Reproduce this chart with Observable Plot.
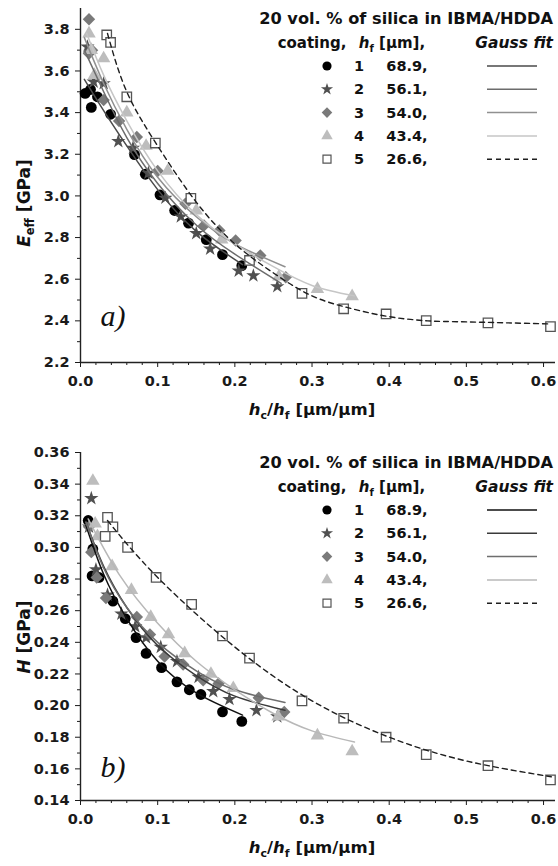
<!DOCTYPE html>
<html>
<head>
<meta charset="utf-8">
<script src="https://cdn.jsdelivr.net/npm/d3@7"></script>
<script src="https://cdn.jsdelivr.net/npm/@observablehq/plot@0.6"></script>
<style>
  html, body { margin: 0; padding: 0; background: #fff; }
  #chart { width: 558px; }
  #chart svg { display: block; }
</style>
</head>
<body>
<div id="chart"></div>
<script>
// ---------- legend / category data ----------
const coatings = ["1", "2", "3", "4", "5"];
const hfValues = ["68.9,", "56.1,", "54.0,", "43.4,", "26.6,"];
const legendTitle = "20 vol. % of silica in IBMA/HDDA";

// ---------- tick data ----------
const xMajor = [0, 0.1, 0.2, 0.3, 0.4, 0.5, 0.6];
const xMinor = [0.02,0.04,0.06,0.08,0.12,0.14,0.16,0.18,0.22,0.24,0.26,0.28,0.32,0.34,0.36,0.38,0.42,0.44,0.46,0.48,0.52,0.54,0.56,0.58];
const eMajor = [2.2, 2.4, 2.6, 2.8, 3.0, 3.2, 3.4, 3.6, 3.8];
const eMinor = [2.3, 2.5, 2.7, 2.9, 3.1, 3.3, 3.5, 3.7];
const hMajor = [0.14, 0.16, 0.18, 0.20, 0.22, 0.24, 0.26, 0.28, 0.30, 0.32, 0.34, 0.36];
const hMinor = [0.15, 0.17, 0.19, 0.21, 0.23, 0.25, 0.27, 0.29, 0.31, 0.33, 0.35];

// ---------- panel a) E_eff [GPa] vs hc/hf ----------
const E1 = [[0.006,3.492],[0.013,3.511],[0.022,3.476],[0.014,3.425],[0.039,3.392],[0.070,3.198],[0.084,3.104],[0.103,3.005],[0.122,2.930],[0.140,2.869],[0.163,2.790],[0.184,2.718],[0.209,2.665]];
const E2 = [[0.009,3.716],[0.017,3.548],[0.030,3.540],[0.049,3.262],[0.068,3.230],[0.088,3.110],[0.110,2.990],[0.130,2.900],[0.150,2.820],[0.168,2.746],[0.205,2.640],[0.224,2.617],[0.255,2.565]];
const E3 = [[0.011,3.848],[0.015,3.700],[0.011,3.684],[0.030,3.460],[0.050,3.360],[0.073,3.283],[0.100,3.120],[0.136,2.962],[0.160,2.858],[0.180,2.834],[0.201,2.786],[0.233,2.714],[0.266,2.609]];
const E4 = [[0.011,3.780],[0.014,3.700],[0.018,3.580],[0.030,3.660],[0.060,3.400],[0.085,3.240],[0.113,3.120],[0.150,2.930],[0.183,2.790],[0.220,2.700],[0.257,2.612],[0.307,2.553],[0.352,2.518]];
const E5 = [[0.034,3.773],[0.039,3.737],[0.060,3.476],[0.097,3.254],[0.143,2.988],[0.219,2.690],[0.287,2.532],[0.341,2.458],[0.396,2.433],[0.448,2.401],[0.528,2.390],[0.609,2.372]];
// Gauss fit curves
const EF1 = [[0.005,3.56],[0.03,3.41],[0.06,3.24],[0.1,3.03],[0.15,2.83],[0.21,2.67]];
const EF2 = [[0.005,3.70],[0.03,3.50],[0.06,3.28],[0.1,3.06],[0.15,2.86],[0.2,2.72],[0.26,2.58]];
const EF3 = [[0.005,3.76],[0.03,3.54],[0.06,3.32],[0.1,3.09],[0.15,2.90],[0.2,2.77],[0.265,2.66]];
const EF4 = [[0.008,3.78],[0.03,3.58],[0.06,3.36],[0.1,3.12],[0.15,2.91],[0.2,2.77],[0.25,2.66],[0.3,2.57],[0.355,2.52]];
const EF5 = [[0.035,3.78],[0.06,3.50],[0.1,3.24],[0.15,2.97],[0.2,2.77],[0.25,2.63],[0.3,2.52],[0.35,2.46],[0.4,2.42],[0.45,2.40],[0.5,2.395],[0.61,2.385]];

// ---------- panel b) H [GPa] vs hc/hf ----------
const H1 = [[0.010,0.317],[0.016,0.299],[0.015,0.282],[0.024,0.281],[0.042,0.266],[0.058,0.255],[0.072,0.243],[0.085,0.233],[0.105,0.224],[0.125,0.215],[0.141,0.210],[0.156,0.207],[0.184,0.196],[0.209,0.190]];
const H2 = [[0.014,0.331],[0.011,0.313],[0.020,0.286],[0.035,0.270],[0.053,0.258],[0.071,0.250],[0.085,0.243],[0.104,0.237],[0.125,0.228],[0.153,0.218],[0.172,0.209],[0.193,0.204],[0.228,0.197],[0.255,0.193]];
const H3 = [[0.011,0.313],[0.014,0.297],[0.021,0.281],[0.033,0.268],[0.073,0.256],[0.090,0.245],[0.109,0.231],[0.133,0.226],[0.159,0.216],[0.179,0.214],[0.231,0.205],[0.264,0.196]];
const H4 = [[0.016,0.342],[0.019,0.315],[0.022,0.307],[0.041,0.288],[0.066,0.273],[0.091,0.256],[0.114,0.245],[0.135,0.233],[0.169,0.220],[0.198,0.211],[0.256,0.193],[0.307,0.181],[0.352,0.171]];
const H5 = [[0.035,0.319],[0.042,0.313],[0.032,0.307],[0.061,0.300],[0.098,0.281],[0.144,0.264],[0.184,0.244],[0.219,0.230],[0.287,0.203],[0.341,0.192],[0.396,0.180],[0.448,0.169],[0.528,0.162],[0.609,0.153]];
const HF1 = [[0.007,0.314],[0.03,0.283],[0.06,0.255],[0.1,0.228],[0.15,0.208],[0.21,0.194]];
const HF2 = [[0.007,0.316],[0.03,0.288],[0.06,0.262],[0.1,0.238],[0.15,0.219],[0.2,0.206],[0.265,0.197]];
const HF3 = [[0.007,0.316],[0.03,0.287],[0.06,0.262],[0.1,0.240],[0.15,0.222],[0.2,0.210],[0.265,0.202]];
const HF4 = [[0.01,0.318],[0.05,0.283],[0.1,0.252],[0.15,0.228],[0.2,0.210],[0.25,0.195],[0.3,0.184],[0.355,0.177]];
const HF5 = [[0.035,0.317],[0.1,0.281],[0.2,0.237],[0.3,0.203],[0.4,0.180],[0.5,0.165],[0.61,0.155]];

// ---------- styles ----------
const markerSymbols = ["circle", "star", "diamond2", "triangle", "square2"];
const markerFill = ["#000000", "#505050", "#7a7a7a", "#bdbdbd", "#ffffff"];
const markerStroke = ["none", "none", "none", "none", "#555555"];
const markerR = [5.4, 4.5, 5.6, 5.0, 6.0];
const fitColorsA = ["#4a4a4a", "#6c6c6c", "#909090", "#c6c6c6", "#1e1e1e"];
const fitColorsB = ["#101010", "#3a3a3a", "#6e6e6e", "#b8b8b8", "#1e1e1e"];
const FONT = "'DejaVu Sans', 'Liberation Sans', sans-serif";

function panel(cfg) {
  const marks = [
    Plot.axisX({ticks: xMajor, tickSize: 5, tickPadding: 8, tickFormat: d3.format(".1f"), label: null}),
    Plot.axisX({ticks: xMinor, tickSize: 3, tickFormat: () => "", label: null}),
    Plot.axisY({ticks: cfg.yMajor, tickSize: 5, tickPadding: 6, tickFormat: d3.format(cfg.yFmt), label: null}),
    Plot.axisY({ticks: cfg.yMinor, tickSize: 3, tickFormat: () => "", label: null}),
    Plot.ruleX([0], {stroke: "#222", strokeWidth: 1.4}),
    Plot.ruleY([cfg.yDomain[0]], {stroke: "#222", strokeWidth: 1.4})
  ];
  cfg.series.forEach((s, i) => {
    marks.push(Plot.dot(s, {
      x: d => d[0], y: d => d[1],
      symbol: markerSymbols[i], r: markerR[i],
      fill: markerFill[i], stroke: markerStroke[i], strokeWidth: 1.3
    }));
  });
  cfg.fits.forEach((f, i) => {
    marks.push(Plot.line(f, {
      x: d => d[0], y: d => d[1], curve: "natural",
      stroke: cfg.fitColors[i], strokeWidth: i === 4 ? 1.4 : 1.5,
      strokeDasharray: i === 4 ? "5,4" : null
    }));
  });
  marks.push(Plot.text([cfg.tag], {
    frameAnchor: "bottom-left", dx: 20, dy: cfg.tagDy, text: d => d,
    fontFamily: "'Liberation Serif', 'DejaVu Serif', serif", fontStyle: "italic",
    fontWeight: "normal", fontSize: 30, textAnchor: "start", lineAnchor: "middle", fill: "#111"
  }));

  const svg = Plot.plot({
    width: 558, height: cfg.height,
    marginLeft: 80, marginRight: 3, marginTop: cfg.marginTop, marginBottom: cfg.marginBottom,
    x: {domain: [0, 0.6155]},
    y: {domain: cfg.yDomain},
    style: {fontFamily: FONT, fontSize: "14.5px", fontWeight: "bold", color: "#1a1a1a", background: "#fff", overflow: "visible"},
    marks
  });

  const g = d3.select(svg).append("g").attr("font-family", FONT).attr("font-weight", "bold").attr("fill", "#111");

  // axis titles
  const xt = g.append("text").attr("x", 312).attr("y", cfg.axisY + 53).attr("text-anchor", "middle").attr("font-size", 16.5);
  xt.append("tspan").attr("font-style", "italic").text("h");
  xt.append("tspan").attr("font-size", 11).attr("dy", 4).text("c");
  xt.append("tspan").attr("dy", -4).text("/");
  xt.append("tspan").attr("font-style", "italic").text("h");
  xt.append("tspan").attr("font-size", 11).attr("dy", 4).text("f");
  xt.append("tspan").attr("dy", -4).text(" [µm/µm]");

  const yt = g.append("text").attr("transform", `translate(30,${cfg.yTitleY}) rotate(-90)`).attr("text-anchor", "middle").attr("font-size", 17);
  yt.append("tspan").attr("font-style", "italic").text(cfg.yTitle[0]);
  if (cfg.yTitle[1]) yt.append("tspan").attr("font-size", 11.5).attr("dy", 4).text(cfg.yTitle[1]);
  yt.append("tspan").attr("dy", cfg.yTitle[1] ? -4 : 0).text(" [GPa]");

  // legend
  g.append("text").attr("x", 553).attr("y", 23.5).attr("text-anchor", "end").attr("font-size", 16.2).text(legendTitle);
  g.append("text").attr("x", 312).attr("y", 47.5).attr("font-size", 15).text("coating,");
  const hh = g.append("text").attr("x", 392).attr("y", 47.5).attr("font-size", 15);
  hh.append("tspan").attr("font-style", "italic").text("h");
  hh.append("tspan").attr("font-size", 10).attr("dy", 4).text("f");
  hh.append("tspan").attr("dy", -4).text(" [µm],");
  g.append("text").attr("x", 553).attr("y", 47.5).attr("text-anchor", "end").attr("font-size", 15.5).attr("font-style", "italic").text("Gauss fit");

  const symbolTypes = {circle: d3.symbolCircle, star: d3.symbolStar, diamond2: d3.symbolDiamond2, triangle: d3.symbolTriangle, square2: d3.symbolSquare2};
  coatings.forEach((c, i) => {
    const cy = 66 + i * 23.3;
    const r = markerR[i] * 0.85;
    g.append("path")
      .attr("transform", `translate(327,${cy})`)
      .attr("d", d3.symbol().type(symbolTypes[markerSymbols[i]]).size(Math.PI * r * r)())
      .attr("fill", markerFill[i]).attr("stroke", markerStroke[i]).attr("stroke-width", 1.2);
    g.append("text").attr("x", 359).attr("y", cy + 5).attr("text-anchor", "middle").attr("font-size", 14.5).text(c);
    g.append("text").attr("x", 407).attr("y", cy + 5).attr("font-size", 14.5).text(hfValues[i]);
    g.append("line").attr("x1", 487).attr("x2", 537).attr("y1", cy).attr("y2", cy)
      .attr("stroke", cfg.fitColors[i]).attr("stroke-width", 1.5)
      .attr("stroke-dasharray", i === 4 ? "5,4" : null);
  });
  return svg;
}

const chart = document.getElementById("chart");
chart.append(panel({
  series: [E1, E2, E3, E4, E5], fits: [EF1, EF2, EF3, EF4, EF5], fitColors: fitColorsA,
  yDomain: [2.2, 3.9], yMajor: eMajor, yMinor: eMinor, yFmt: ".1f",
  height: 444, marginTop: 8, marginBottom: 82, axisY: 362,
  tag: "a)", tagDy: -46, yTitle: ["E", "eff"], yTitleY: 203
}));
chart.append(panel({
  series: [H1, H2, H3, H4, H5], fits: [HF1, HF2, HF3, HF4, HF5], fitColors: fitColorsB,
  yDomain: [0.14, 0.36], yMajor: hMajor, yMinor: hMinor, yFmt: ".2f",
  height: 422, marginTop: 8, marginBottom: 66, axisY: 356,
  tag: "b)", tagDy: -33, yTitle: ["H", ""], yTitleY: 193
}));
</script>
</body>
</html>
